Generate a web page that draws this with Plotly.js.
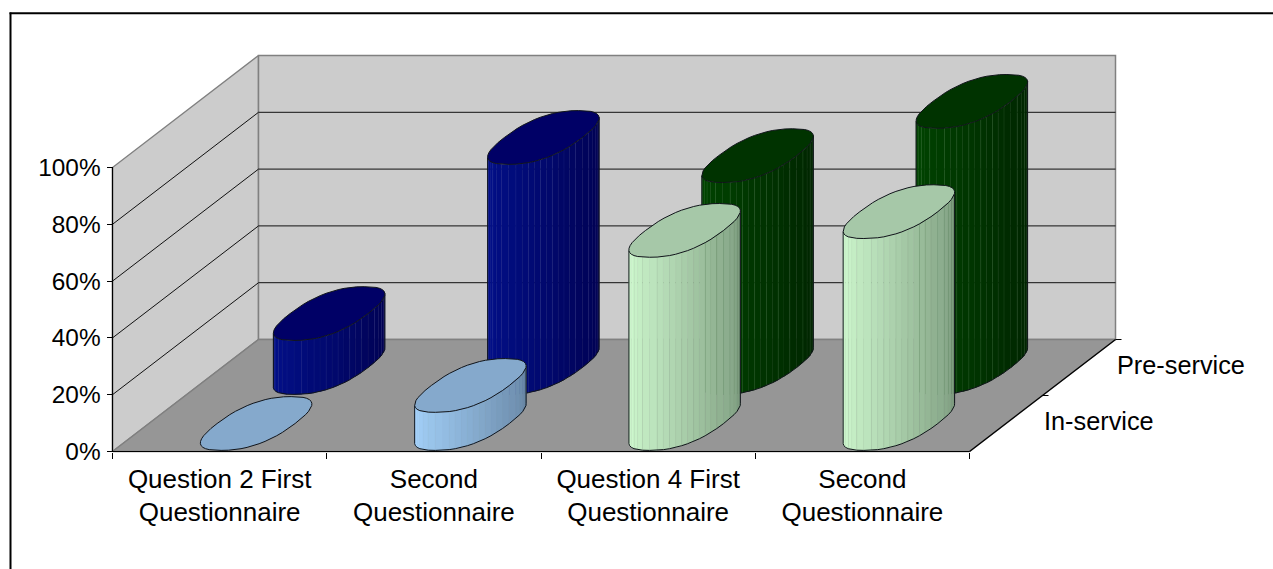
<!DOCTYPE html>
<html>
<head>
<meta charset="utf-8">
<script src="https://cdn.plot.ly/plotly-3.0.1.min.js"></script>
<style>html,body{margin:0;padding:0;background:#fff;overflow:hidden}</style>
</head>
<body>
<div id="chart" style="width:1273px;height:569px"></div>
<script>
// ---- data ----
const categories = ["Question 2 First<br>Questionnaire", "Second<br>Questionnaire", "Question 4 First<br>Questionnaire", "Second<br>Questionnaire"];
const seriesNames = ["In-service", "Pre-service"];
const inService = [0, 13.4, 68, 74.6];
const preService = [19, 81, 74.6, 93.7];
const yTicks = [0, 20, 40, 60, 80, 100];
const yTickText = ["0%", "20%", "40%", "60%", "80%", "100%"];

// colours: [left of body, right of body, top ellipse, strip line]
const lightBlue = [[168, 214, 255], [100, 130, 160], "#85A9CC", null];
const navy = [[2, 16, 140], [0, 0, 78], "#000066", "rgba(90,100,190,0.2)"];
const paleGreen = [[212, 255, 212], [120, 150, 122], "#A6C8A8", "rgba(70,100,70,0.16)"];
const darkGreen = [[0, 70, 0], [0, 34, 0], "#003300", "rgba(110,170,110,0.25)"];
const inColours = [lightBlue, lightBlue, paleGreen, paleGreen];
const preColours = [navy, navy, darkGreen, darkGreen];

// ---- oblique projection in axis units ----
const W = 1273, H = 569;
const pxX = 214.25, pxY = 2.84, x0Px = 112.5, y0Px = 451.5;
const depthX = 146 / pxX, depthY = 112 / pxY;
const nCat = categories.length;
const proj = (c, v, d) => [c + d * depthX, v + d * depthY];
const radC = 39 / pxX, radD = 0.24;      // cylinder radii in category / depth units
const squareness = 0.82;                 // the reference's bases are slightly squarish
const N = 48;

const traces = [];
function poly(pts, fill, lineColor, lineWidth) {
  const x = pts.map(p => p[0]), y = pts.map(p => p[1]);
  const t = {type: "scatter", mode: "lines", x, y, hoverinfo: "skip", showlegend: false, cliponaxis: false,
    line: {color: lineColor || "rgba(0,0,0,0)", width: lineWidth === undefined ? 1 : lineWidth}};
  if (fill) { t.fill = "toself"; t.fillcolor = fill; }
  traces.push(t);
}

// walls and floor
const wallCol = "#CCCCCC", edgeCol = "#808080";
poly([proj(0,0,0), proj(0,0,1), proj(0,100,1), proj(0,100,0), proj(0,0,0)], wallCol, edgeCol, 1.4);
poly([proj(0,0,1), proj(nCat,0,1), proj(nCat,100,1), proj(0,100,1), proj(0,0,1)], wallCol, edgeCol, 1.5);
poly([proj(0,0,0), proj(nCat,0,0), proj(nCat,0,1), proj(0,0,1), proj(0,0,0)], "#969696", edgeCol, 1.5);
// gridlines
yTicks.slice(1, -1).forEach(v => poly([proj(0,v,0), proj(0,v,1), proj(nCat,v,1)], null, "#111111", 1));

function mix(a, b, f) {
  return "rgb(" + a.map((q, i) => Math.round(q + (b[i] - q) * f)).join(",") + ")";
}
const sp = q => Math.sign(q) * Math.pow(Math.abs(q), squareness);
function cylinder(cat, band, value, col) {
  const dMid = (band + 0.5) / 2;
  const pt = (t, v) => proj(cat + 0.5 + radC * sp(Math.cos(t)), v, dMid + radD * sp(Math.sin(t)));
  // silhouette: sample positions with the smallest and largest horizontal reach
  const angles = [];
  for (let i = 0; i < N; i++) angles.push(i * 2 * Math.PI / N);
  let iMin = 0, iMax = 0;
  angles.forEach((t, i) => {
    if (pt(t, 0)[0] < pt(angles[iMin], 0)[0]) iMin = i;
    if (pt(t, 0)[0] > pt(angles[iMax], 0)[0]) iMax = i;
  });
  const nFront = (iMax - iMin + N) % N;
  if (value > 0) {
    for (let k = 0; k < nFront; k++) {
      const t1 = angles[(iMin + k) % N], t2 = angles[(iMin + k + 1) % N];
      const f = k / (nFront - 1);
      const c = mix(col[0], col[1], f);
      const edge = (col[3] && k % 2 === 1) ? col[3] : c;
      poly([pt(t1,0), pt(t2,0), pt(t2,value), pt(t1,value), pt(t1,0)], c, edge, 0.6);
    }
    const outline = [pt(angles[iMin], value)];
    for (let k = 0; k <= nFront; k++) outline.push(pt(angles[(iMin + k) % N], 0));
    outline.push(pt(angles[iMax], value));
    poly(outline, null, "#10141a", 1);
  }
  const top = angles.map(t => pt(t, value));
  top.push(top[0]);
  poly(top, col[2], "#10141a", 1);
}
// back row first, then front row
preService.forEach((v, i) => cylinder(i, 1, v, preColours[i]));
inService.forEach((v, i) => cylinder(i, 0, v, inColours[i]));

const depthFont = {family: "Liberation Sans, Arial, sans-serif", size: 25.3, color: "#000"};
// axis lines
poly([proj(0,100,0), proj(0,0,0)], null, "#000", 1.2);
poly([proj(nCat,0,0), proj(nCat,0,1)], null, "#000", 1.2);
// depth-axis ticks
[0.5, 1].forEach(d => {
  const p = proj(nCat, 0, d);
  poly([p, [p[0] + 6 / pxX, p[1]]], null, "#000", 1);
});
// depth-axis labels
traces.push({
  type: "scatter", mode: "text", hoverinfo: "skip", showlegend: false, cliponaxis: false,
  x: seriesNames.map((n, i) => proj(nCat, 0, (i + 0.5) / 2)[0] + 38 / pxX),
  y: seriesNames.map((n, i) => proj(nCat, 0, (i + 0.5) / 2)[1]),
  text: seriesNames, textposition: "middle right", textfont: depthFont
});
// front axis line on the tick-mark axis
traces.push({type: "scatter", mode: "lines", x: [0, nCat], y: [0, 0], xaxis: "x2", yaxis: "y",
  hoverinfo: "skip", showlegend: false, line: {color: "#000", width: 1.2}});

const xRange = [(-x0Px) / pxX, (W - x0Px) / pxX];
const yRange = [(y0Px - H) / pxY, y0Px / pxY];
const xPos = 1 - y0Px / H;
const xFont = {family: "Liberation Sans, Arial, sans-serif", size: 26, color: "#000"};
const yFont = {family: "Liberation Sans, Arial, sans-serif", size: 24.4, color: "#000"};

const layout = {
  width: W, height: H, margin: {l: 0, r: 0, t: 0, b: 0, pad: 0},
  paper_bgcolor: "#fff", plot_bgcolor: "rgba(0,0,0,0)", showlegend: false, hovermode: false,
  font: xFont,
  xaxis: {range: xRange, domain: [0, 1], anchor: "free", position: xPos, side: "bottom", showgrid: false, zeroline: false, showline: false,
    tickmode: "array", tickvals: categories.map((c, i) => i + 0.5), ticktext: categories,
    ticks: "", ticklabelstandoff: 9, tickangle: 0, tickfont: xFont, automargin: false},
  xaxis2: {range: xRange, domain: [0, 1], overlaying: "x", anchor: "free", position: xPos, side: "bottom", showgrid: false, zeroline: false, showline: false,
    tickmode: "array", tickvals: categories.map((c, i) => i).concat([nCat]), ticks: "outside", ticklen: 6, tickwidth: 1, tickcolor: "#000",
    showticklabels: false, automargin: false},
  yaxis: {range: yRange, domain: [0, 1], anchor: "free", position: x0Px / W, side: "left", showgrid: false, zeroline: false, showline: false,
    tickmode: "array", tickvals: yTicks, ticktext: yTickText, ticks: "outside", ticklen: 6, tickwidth: 1, tickcolor: "#000",
    ticklabelstandoff: 1, tickfont: yFont, automargin: false},
  shapes: [
    {type: "line", xref: "paper", yref: "paper", x0: 10.5 / W, x1: 10.5 / W, y0: 0, y1: 1 - 12.5 / H, line: {color: "#000", width: 2}},
    {type: "line", xref: "paper", yref: "paper", x0: 9.5 / W, x1: 1, y0: 1 - 13.25 / H, y1: 1 - 13.25 / H, line: {color: "#000", width: 2}}
  ]
};
Plotly.newPlot("chart", traces, layout, {staticPlot: true, displayModeBar: false});
</script>
</body>
</html>
